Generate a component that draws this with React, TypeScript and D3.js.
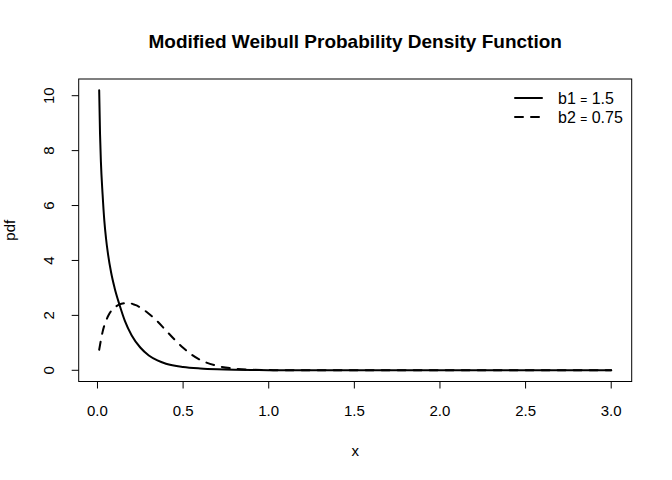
import React, { useEffect, useRef } from 'react';
import * as d3 from 'd3';

// values
const solidX = [0.01, 0.015, 0.02, 0.03, 0.04, 0.05, 0.06, 0.08, 0.1, 0.13, 0.16, 0.2, 0.25, 0.3, 0.35, 0.4, 0.5, 0.6, 0.7, 0.8, 0.9, 1.0, 1.5, 2.0, 2.5, 3.0];
const solidY = [10.2, 8.6, 7.6, 6.4, 5.45, 4.8, 4.3, 3.55, 3.0, 2.36, 1.8, 1.27, 0.83, 0.54, 0.36, 0.24, 0.12, 0.065, 0.035, 0.018, 0.009, 0.004, 0, 0, 0, 0];

const dashedX = [0.01, 0.03, 0.06, 0.1, 0.14, 0.18, 0.22, 0.26, 0.3, 0.35, 0.4, 0.45, 0.5, 0.55, 0.6, 0.7, 0.8, 0.9, 1.0, 1.1, 1.5, 2.0, 2.5, 3.0];
const dashedY = [0.75, 1.4, 1.95, 2.28, 2.42, 2.45, 2.38, 2.25, 2.06, 1.78, 1.45, 1.12, 0.82, 0.57, 0.38, 0.16, 0.06, 0.02, 0.008, 0.003, 0, 0, 0, 0];

const xTicks = [0, 0.5, 1, 1.5, 2, 2.5, 3];
const yTicks = [0, 2, 4, 6, 8, 10];

const legendNames = ['b1', 'b2'];
const legendValues = ['1.5', '0.75'];

const title = 'Modified Weibull Probability Density Function';

interface Point {
  x: number;
  y: number;
}

const App: React.FC = () => {
  const svgRef = useRef<SVGSVGElement>(null);

  useEffect(() => {
    if (!svgRef.current) return;

    const svg = d3.select(svgRef.current);
    svg.selectAll("*").remove();

    const font = "'Liberation Sans', Arial, Helvetica, sans-serif";
    const left = 78.7;
    const right = 631.7;
    const top = 79;
    const bottom = 381.5;

    // R style 4% padding on both axes
    const xMin = 0.01, xMax = 3;
    const xPad = (xMax - xMin) * 0.04;
    const yMin = 0, yMax = 10.2;
    const yPad = (yMax - yMin) * 0.04;

    const xScale = d3.scaleLinear()
      .domain([xMin - xPad, xMax + xPad])
      .range([left, right]);

    const yScale = d3.scaleLinear()
      .domain([yMin - yPad, yMax + yPad])
      .range([bottom, top]);

    svg.append("rect")
      .attr("width", 672)
      .attr("height", 480)
      .attr("fill", "white");

    // curves
    const lineGenerator = d3.line<Point>()
      .x(d => xScale(d.x))
      .y(d => yScale(d.y))
      .curve(d3.curveMonotoneX);

    const solid: Point[] = solidX.map((x, i) => ({ x, y: solidY[i] }));
    const dashed: Point[] = dashedX.map((x, i) => ({ x, y: dashedY[i] }));

    svg.append("path")
      .datum(solid)
      .attr("d", lineGenerator)
      .attr("fill", "none")
      .attr("stroke", "black")
      .attr("stroke-width", 2)
      .attr("stroke-linecap", "round")
      .attr("stroke-linejoin", "round");

    svg.append("path")
      .datum(dashed)
      .attr("d", lineGenerator)
      .attr("fill", "none")
      .attr("stroke", "black")
      .attr("stroke-width", 2)
      .attr("stroke-dasharray", "8,8")
      .attr("stroke-linecap", "round")
      .attr("stroke-linejoin", "round");

    // box
    svg.append("rect")
      .attr("x", left)
      .attr("y", top)
      .attr("width", right - left)
      .attr("height", bottom - top)
      .attr("fill", "none")
      .attr("stroke", "black")
      .attr("stroke-width", 1);

    // x axis
    const xAxis = svg.append("g");
    xAxis.selectAll("line")
      .data(xTicks)
      .enter()
      .append("line")
      .attr("x1", d => xScale(d))
      .attr("x2", d => xScale(d))
      .attr("y1", bottom)
      .attr("y2", bottom + 7)
      .attr("stroke", "black");

    xAxis.selectAll("text")
      .data(xTicks)
      .enter()
      .append("text")
      .attr("x", d => xScale(d))
      .attr("y", 416)
      .attr("text-anchor", "middle")
      .attr("font-family", font)
      .attr("font-size", 15)
      .text(d => d3.format(".1f")(d));

    // y axis
    const yAxis = svg.append("g");
    yAxis.selectAll("line")
      .data(yTicks)
      .enter()
      .append("line")
      .attr("x1", left)
      .attr("x2", left - 7)
      .attr("y1", d => yScale(d))
      .attr("y2", d => yScale(d))
      .attr("stroke", "black");

    yAxis.selectAll("text")
      .data(yTicks)
      .enter()
      .append("text")
      .attr("transform", d => `translate(53.5,${yScale(d)}) rotate(-90)`)
      .attr("text-anchor", "middle")
      .attr("font-family", font)
      .attr("font-size", 15)
      .text(d => String(d));

    // axis titles
    svg.append("text")
      .attr("x", (left + right) / 2)
      .attr("y", 456)
      .attr("text-anchor", "middle")
      .attr("font-family", font)
      .attr("font-size", 15)
      .text("x");

    svg.append("text")
      .attr("transform", `translate(15,${(top + bottom) / 2}) rotate(-90)`)
      .attr("text-anchor", "middle")
      .attr("font-family", font)
      .attr("font-size", 15)
      .text("pdf");

    // title
    svg.append("text")
      .attr("x", (left + right) / 2)
      .attr("y", 48)
      .attr("text-anchor", "middle")
      .attr("font-family", font)
      .attr("font-size", 19)
      .attr("font-weight", "bold")
      .text(title);

    // legend
    const legend = svg.append("g");
    legendNames.forEach((name, i) => {
      const ly = 98 + i * 19;
      legend.append("line")
        .attr("x1", 515)
        .attr("x2", 542)
        .attr("y1", ly)
        .attr("y2", ly)
        .attr("stroke", "black")
        .attr("stroke-width", 2)
        .attr("stroke-linecap", "round")
        .attr("stroke-dasharray", i === 0 ? null : "8,8");

      const t = legend.append("text")
        .attr("x", 558)
        .attr("y", ly + 5.5)
        .attr("font-family", font)
        .attr("font-size", 16);
      t.append("tspan").text(name + " ");
      t.append("tspan").attr("font-size", 12).text("=");
      t.append("tspan").text(" " + legendValues[i]);
    });
  }, []);

  return (
    <svg
      ref={svgRef}
      width="672"
      height="480"
      style={{ position: 'absolute', left: 0, top: 0 }}
    ></svg>
  );
};

export default App;
